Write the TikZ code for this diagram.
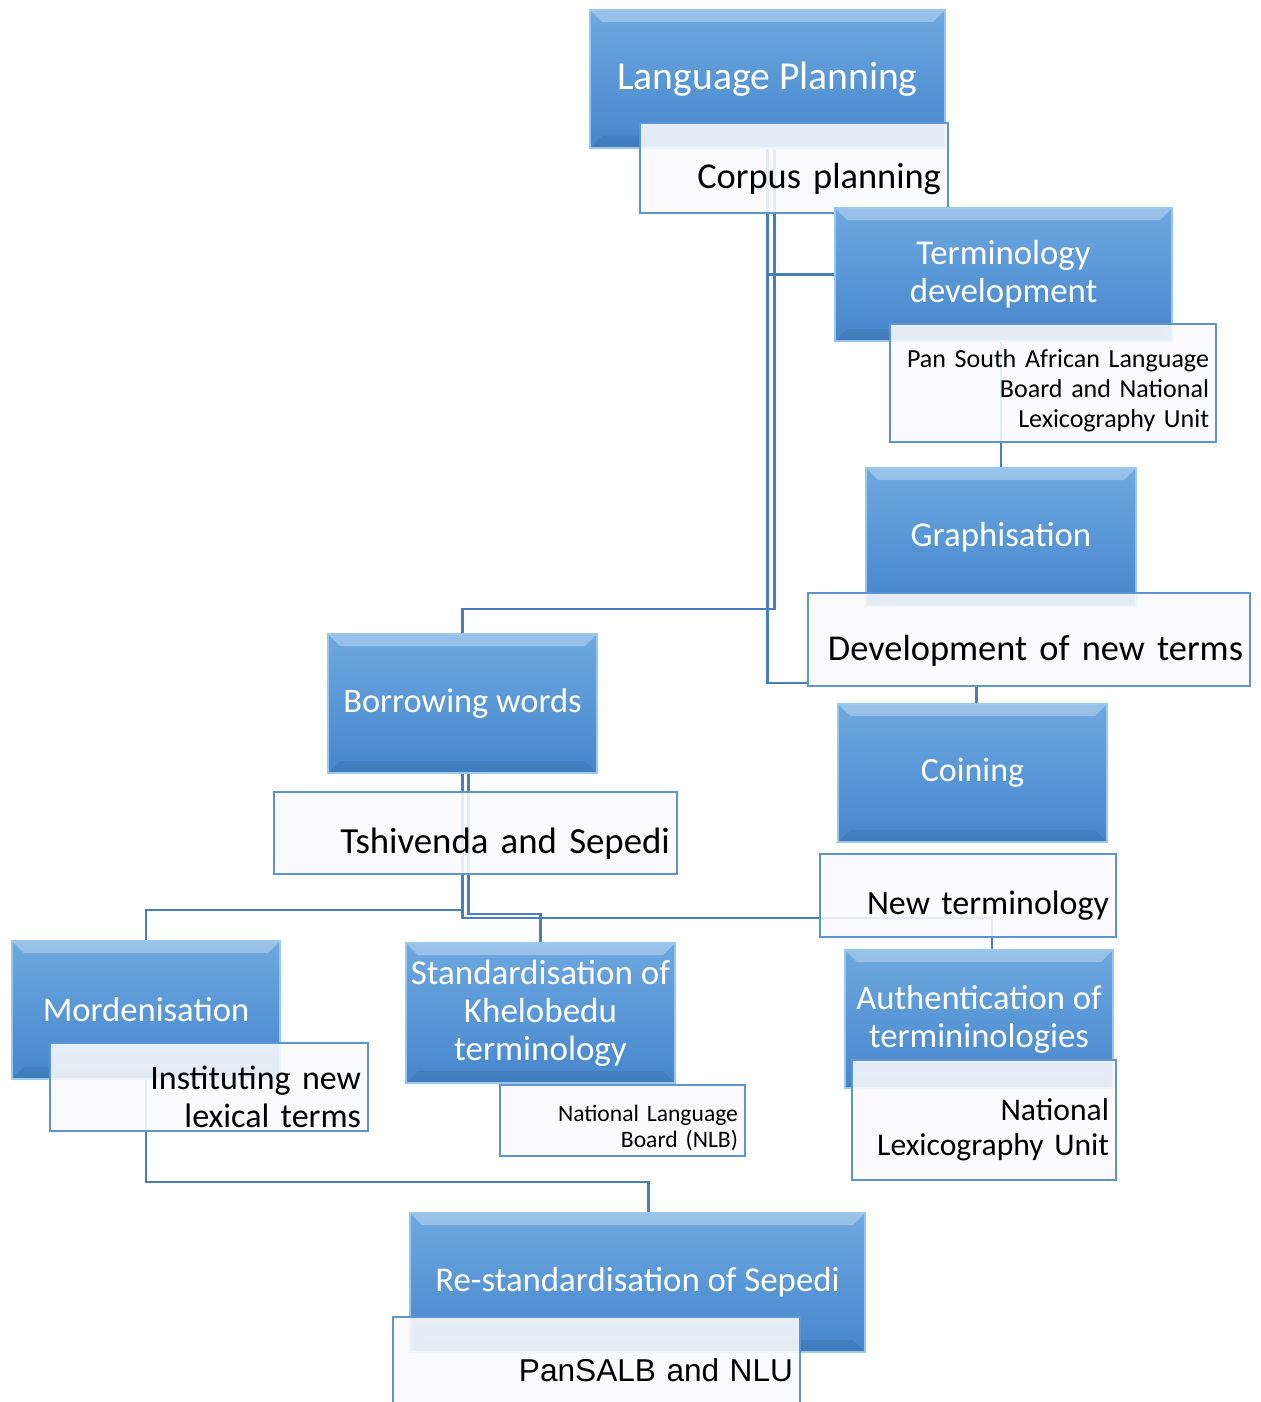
\documentclass[tikz,border=0pt]{standalone}
\usepackage{fontspec}
\setmainfont{Carlito}
\newfontfamily\arialfont{Liberation Sans}
\usetikzlibrary{backgrounds}
\definecolor{boxtop}{RGB}{110,168,224}
\definecolor{boxbot}{RGB}{70,134,204}
\definecolor{boxrim}{RGB}{150,200,240}
\definecolor{notefill}{RGB}{250,251,253}
\definecolor{noterim}{RGB}{92,148,212}
\definecolor{linkcol}{RGB}{74,126,187}
\tikzset{
  topic/.style={draw=boxrim,line width=1pt,top color=boxtop,bottom color=boxbot,text=white,align=center,inner sep=0pt,
    path picture={\fill[white,opacity=.3] (path picture bounding box.north west) -- (path picture bounding box.north east)
      -- ([xshift=-6pt,yshift=-6pt]path picture bounding box.north east) -- ([xshift=6pt,yshift=-6pt]path picture bounding box.north west) -- cycle;
      \fill[black,opacity=.07] (path picture bounding box.south west) -- (path picture bounding box.south east)
      -- ([xshift=-6pt,yshift=6pt]path picture bounding box.south east) -- ([xshift=6pt,yshift=6pt]path picture bounding box.south west) -- cycle;}},
  note/.style={draw=noterim,line width=1pt,fill=notefill,fill opacity=.88,text opacity=1,align=right,inner ysep=0pt,inner xsep=3.5pt,
    execute at begin node={\rule{0pt}{1.3em}}},
  link/.style={draw=linkcol,line width=1.2pt},
}
\begin{document}
\begin{tikzpicture}[x=0.5pt,y=-0.5pt]
\useasboundingbox (0,0) rectangle (1260,1402);
\node[topic,minimum width=177.5pt,minimum height=69pt,font=\fontsize{19.8}{23}\selectfont] (lp) at (767.5,79) {Language Planning};
\node[note,minimum height=45pt,text width=147pt,font=\fontsize{18.2}{22}\selectfont] (corpus) at (794,168) {Corpus planning};
\node[topic,minimum width=168.5pt,minimum height=66.5pt,font=\fontsize{17.4}{19}\selectfont] (term) at (1003.5,274.5) {Terminology\\development};
\node[note,minimum height=59pt,text width=156pt,font=\fontsize{13}{15}\selectfont] (pansalb) at (1053,383) {Pan South African Language\\Board and National\\Lexicography Unit};
\node[topic,minimum width=135pt,minimum height=69pt,font=\fontsize{17.4}{20}\selectfont] (graph) at (1001,537) {Graphisation};
\node[note,minimum height=46.5pt,text width=214pt,font=\fontsize{18.2}{22}\selectfont] (devterms) at (1029,639.5) {Development of new terms};
\node[topic,minimum width=134.5pt,minimum height=69.5pt,font=\fontsize{17.2}{20}\selectfont] (borrow) at (462.5,703.5) {Borrowing words};
\node[note,minimum height=41pt,text width=194.5pt,font=\fontsize{18.4}{22}\selectfont] (tshiv) at (475.5,833) {Tshivenda and Sepedi};
\node[topic,minimum width=134.5pt,minimum height=69pt,font=\fontsize{17}{20}\selectfont] (coin) at (972.5,773) {Coining};
\node[note,minimum height=41.5pt,text width=141pt,font=\fontsize{17}{22}\selectfont] (newterm) at (968,895.5) {New terminology};
\node[topic,minimum width=134pt,minimum height=69pt,font=\fontsize{17.3}{20}\selectfont] (morden) at (146,1010) {Mordenisation};
\node[note,minimum height=44pt,text width=152pt,font=\fontsize{17}{19}\selectfont] (instit) at (209,1087) {Instituting new\\lexical terms};
\node[topic,minimum width=134.5pt,minimum height=70pt,font=\fontsize{17.5}{19}\selectfont] (stand) at (540.5,1013) {Standardisation of\\Khelobedu\\terminology};
\node[note,minimum height=35.5pt,text width=115.5pt,font=\fontsize{11.8}{13}\selectfont] (nlb) at (622.5,1120.5) {National Language\\Board (NLB)};
\node[topic,minimum width=134pt,minimum height=69pt,font=\fontsize{17.3}{19}\selectfont] (auth) at (979,1019) {Authentication of\\termininologies};
\node[note,minimum height=60pt,text width=125pt,font=\fontsize{15.8}{17.5}\selectfont] (nlu) at (984,1120) {National\\Lexicography Unit};
\node[topic,minimum width=227.5pt,minimum height=69.5pt,font=\fontsize{17.4}{21}\selectfont] (restand) at (637.5,1282.5) {Re-standardisation of Sepedi};
\node[note,minimum height=44pt,text width=196.5pt,font=\arialfont\fontsize{15.8}{19}\selectfont] (pannlu) at (596.5,1361) {PanSALB and NLU};
\begin{scope}[on background layer]
\draw[link] (lp.south) |- (term.west);
\draw[link] (lp.south) |- ([yshift=2pt]devterms.south west);
\draw[link] ([xshift=3.5pt]lp.south) |- ([yshift=12pt]borrow.north) -- (borrow.north);
\draw[link] (term.south -| graph.north) -- (graph.north);
\draw[link] ([xshift=2pt]coin.north |- devterms.south) -- ([xshift=2pt]coin.north);
\draw[link] (borrow.south) |- ([yshift=15pt]morden.north) -- (morden.north);
\draw[link] ([xshift=3pt]borrow.south) |- ([yshift=14pt]stand.north) -- (stand.north);
\draw[link] (borrow.south) |- ([xshift=6.5pt,yshift=15.5pt]auth.north) -- ([xshift=6.5pt]auth.north);
\draw[link] (morden.south) |- ([xshift=5.5pt,yshift=15pt]restand.north) -- ([xshift=5.5pt]restand.north);
\end{scope}
\end{tikzpicture}
\end{document}
